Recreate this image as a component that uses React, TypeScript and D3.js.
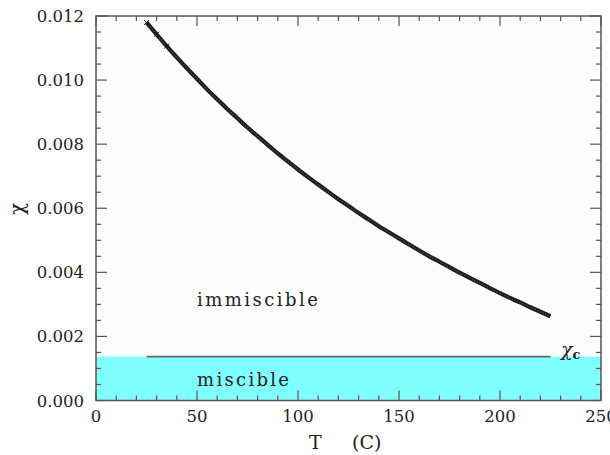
import React from "react";
import * as d3 from "d3";

// Flory–Huggins interaction parameter versus temperature
const temperatures = [
  25, 30, 35, 40, 45, 50, 55, 60, 65, 70, 75, 80, 85, 90, 95, 100, 105, 110, 115, 120,
  125, 130, 135, 140, 145, 150, 155, 160, 165, 170, 175, 180, 185, 190, 195, 200, 205,
  210, 215, 220, 225,
];
const chiValues = [
  0.0118, 0.01143, 0.01106, 0.01071, 0.01037, 0.01004, 0.00971, 0.0094, 0.0091, 0.00881,
  0.00852, 0.00825, 0.00798, 0.00771, 0.00746, 0.00721, 0.00697, 0.00674, 0.00651, 0.00628,
  0.00607, 0.00585, 0.00565, 0.00544, 0.00525, 0.00506, 0.00487, 0.00468, 0.0045, 0.00433,
  0.00416, 0.00399, 0.00383, 0.00367, 0.00351, 0.00335, 0.0032, 0.00306, 0.00291, 0.00277,
  0.00263,
];
// critical value and the temperature span of its line
const chiCritical = 0.00137;
const criticalSpan = [25, 225];

const xMajorTicks = [0, 50, 100, 150, 200, 250];
const yMajorTicks = [0, 0.002, 0.004, 0.006, 0.008, 0.01, 0.012];
const xMinorStep = 10;
const yMinorStep = 0.0005;

const W = 610;
const H = 455;
const left = 96;
const right = 601;
const top = 16;
const bottom = 400.5;

export default function App() {
  const x = d3.scaleLinear().domain([0, 250]).range([left, right]);
  const y = d3.scaleLinear().domain([0, 0.012]).range([bottom, top]);

  const xMinor = d3.range(0, 250 + 1e-9, xMinorStep);
  const yMinor = d3.range(0, 0.012 + 1e-9, yMinorStep);

  const pts: [number, number][] = temperatures.map((t, i) => [t, chiValues[i]]);
  const line = d3
    .line<[number, number]>()
    .x((d) => x(d[0]))
    .y((d) => y(d[1]))
    .curve(d3.curveMonotoneX);

  const serif = "'DejaVu Serif', serif";
  const axisColor = "#555";
  const fmt = d3.format(".3f");

  return (
    <div style={{ position: "absolute", left: 0, top: 0 }}>
      <svg width={W} height={H} style={{ display: "block", background: "#fff" }}>
        <rect x={left} y={top} width={right - left} height={bottom - top} fill="#fdfdfd" />
        {/* miscible region */}
        <rect
          x={x(0)}
          y={y(chiCritical)}
          width={x(250) - x(0)}
          height={y(0) - y(chiCritical)}
          fill="#80ffff"
        />
        {/* critical chi line */}
        <line
          x1={x(criticalSpan[0])}
          x2={x(criticalSpan[1])}
          y1={y(chiCritical)}
          y2={y(chiCritical)}
          stroke="#666"
          strokeWidth={1.6}
        />
        {/* chi(T) curve */}
        <path d={line(pts) || ""} fill="none" stroke="#1a1a1a" strokeWidth={4.2} strokeLinecap="butt" />
        <path
          d={line(pts) || ""}
          fill="none"
          stroke="#888"
          strokeWidth={1.2}
          strokeDasharray="1.2 1.6"
          opacity={0.6}
        />
        {pts.slice(0, 3).map((d, i) => (
          <g key={i} transform={`translate(${x(d[0])},${y(d[1])})`} stroke="#111" strokeWidth={1}>
            <line x1={-2.5} y1={-2.5} x2={2.5} y2={2.5} />
            <line x1={-2.5} y1={2.5} x2={2.5} y2={-2.5} />
          </g>
        ))}

        {/* frame */}
        <rect
          x={left}
          y={top}
          width={right - left}
          height={bottom - top}
          fill="none"
          stroke={axisColor}
          strokeWidth={1.5}
        />
        {/* x ticks, bottom and top */}
        {xMinor.map((t) => {
          const major = xMajorTicks.some((m) => Math.abs(m - t) < 1e-6);
          const len = major ? 10 : 5;
          return (
            <g key={`x${t}`} stroke={axisColor} strokeWidth={1.2}>
              <line x1={x(t)} x2={x(t)} y1={bottom} y2={bottom - len} />
              <line x1={x(t)} x2={x(t)} y1={top} y2={top + len} />
            </g>
          );
        })}
        {/* y ticks, left and right */}
        {yMinor.map((v) => {
          const major = yMajorTicks.some((m) => Math.abs(m - v) < 1e-9);
          const len = major ? 11 : 5;
          return (
            <g key={`y${v}`} stroke={axisColor} strokeWidth={1.2}>
              <line x1={left} x2={left + len} y1={y(v)} y2={y(v)} />
              <line x1={right} x2={right - len} y1={y(v)} y2={y(v)} />
            </g>
          );
        })}

        {/* tick labels */}
        {xMajorTicks.map((t) => (
          <text
            key={`xl${t}`}
            x={x(t)}
            y={422}
            textAnchor="middle"
            fontFamily={serif}
            fontSize={16.5}
            fill="#222"
          >
            {t}
          </text>
        ))}
        {yMajorTicks.map((v) => (
          <text
            key={`yl${v}`}
            x={84}
            y={y(v) + 6}
            textAnchor="end"
            fontFamily={serif}
            fontSize={16.5}
            fill="#222"
          >
            {fmt(v)}
          </text>
        ))}

        {/* axis titles */}
        <text x={309} y={449} fontFamily={serif} fontSize={19} fill="#222">
          T
        </text>
        <text x={352} y={449} fontFamily={serif} fontSize={19} fill="#222">
          (C)
        </text>
        <text
          transform="translate(24,209) rotate(-90)"
          textAnchor="middle"
          fontFamily={serif}
          fontSize={20}
          fill="#222"
        >
          χ
        </text>

        {/* region labels */}
        <text x={197} y={306} fontFamily={serif} fontSize={18} textLength={121} fill="#222">
          immiscible
        </text>
        <text x={197} y={386} fontFamily={serif} fontSize={18} textLength={92} fill="#222">
          miscible
        </text>
        <text x={561} y={356} fontFamily={serif} fontSize={19} fontStyle="italic" fill="#222">
          χ
          <tspan fontSize={13} dy={3} fontWeight="bold" fontStyle="normal">
            c
          </tspan>
        </text>
      </svg>
    </div>
  );
}
